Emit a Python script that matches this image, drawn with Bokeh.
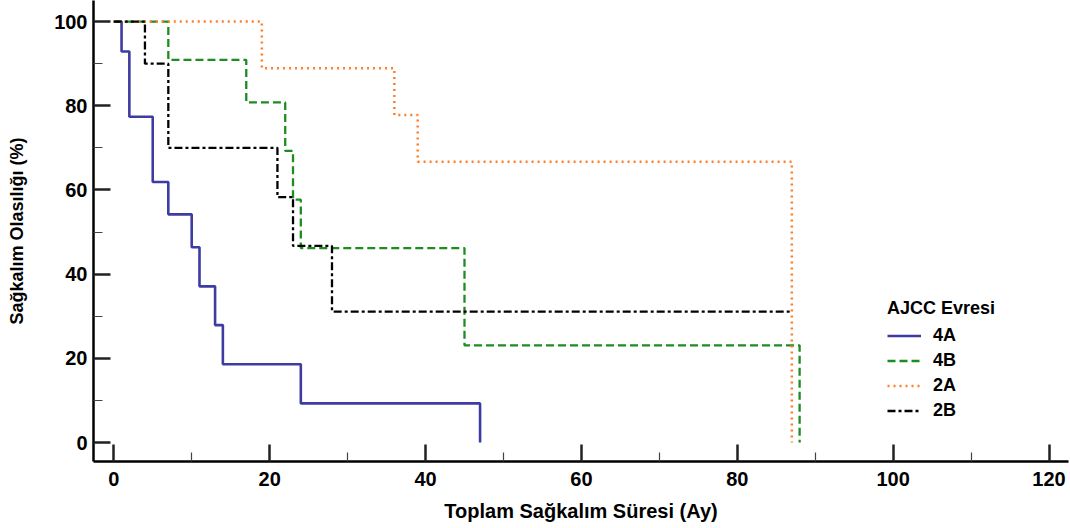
from bokeh.plotting import figure
from bokeh.models import Range1d, FixedTicker, Legend, LegendItem
from bokeh.embed import file_html
from bokeh.resources import INLINE

# Kaplan-Meier survival steps (time in months, survival %)
t_4A = [0, 1, 2, 5, 7, 10, 11, 13, 14, 24, 47]
s_4A = [100, 92.9, 77.4, 61.9, 54.2, 46.4, 37.1, 27.9, 18.6, 9.3, 0]

t_4B = [0, 7, 17, 22, 23, 24, 45, 88]
s_4B = [100, 90.9, 80.8, 69.3, 57.7, 46.2, 23.1, 0]

t_2A = [0, 19, 36, 39, 87]
s_2A = [100, 88.9, 77.8, 66.7, 0]

t_2B = [0, 4, 7, 21, 23, 28, 87]
s_2B = [100, 90, 70, 58.3, 46.7, 31.1, 31.1]

series_names = ["4A", "4B", "2A", "2B"]
x_ticks = [0, 20, 40, 60, 80, 100, 120]
y_ticks = [0, 20, 40, 60, 80, 100]

FONT = "Liberation Sans"

p = figure(width=1070, height=528, output_backend="svg", toolbar_location=None,
           x_range=Range1d(-2.6, 122.5), y_range=Range1d(-4.5, 105.0),
           min_border_left=93, min_border_right=2, min_border_top=0, min_border_bottom=67)
p.xgrid.visible = False
p.ygrid.visible = False
p.outline_line_color = None
p.background_fill_color = "white"
p.border_fill_color = "white"

r1 = p.step(t_4A, s_4A, mode="after", line_color="#3c3ca2", line_width=2.6)
r2 = p.step(t_4B, s_4B, mode="after", line_color="#1e8c1e", line_width=2.3, line_dash="8 4")
r3 = p.step(t_2A, s_2A, mode="after", line_color="#ff7f27", line_width=2.5, line_dash="2 4")
r4 = p.step(t_2B, s_2B, mode="after", line_color="black", line_width=2.3, line_dash="8 3 3 3")

for ax in (p.xaxis[0], p.yaxis[0]):
    ax.axis_line_width = 2.5
    ax.axis_line_color = "black"
    ax.major_tick_in = 17
    ax.major_tick_out = 0
    ax.minor_tick_in = 9
    ax.minor_tick_out = 0
    ax.major_tick_line_width = 2.5
    ax.minor_tick_line_width = 1.2
    ax.major_tick_line_color = "#222222"
    ax.minor_tick_line_color = "#444444"
    ax.major_label_text_font = FONT
    ax.major_label_text_font_style = "bold"
    ax.major_label_text_font_size = "20px"
    ax.major_label_text_color = "black"
    ax.axis_label_text_font = FONT
    ax.axis_label_text_font_style = "bold"
    ax.axis_label_text_color = "black"

p.xaxis[0].axis_label_text_font_size = "20px"
p.yaxis[0].axis_label_text_font_size = "18px"
p.xaxis[0].ticker = FixedTicker(ticks=x_ticks, minor_ticks=[10, 30, 50, 70, 90, 110])
p.yaxis[0].ticker = FixedTicker(ticks=y_ticks, minor_ticks=[10, 30, 50, 70, 90])
p.xaxis[0].major_label_standoff = 10
p.yaxis[0].major_label_standoff = 6
p.xaxis[0].axis_label = "Toplam Sağkalım Süresi (Ay)"
p.yaxis[0].axis_label = "Sağkalım Olasılığı (%)"
p.xaxis[0].axis_label_standoff = 11
p.yaxis[0].axis_label_standoff = 24

legend = Legend(items=[LegendItem(label=n, renderers=[r]) for n, r in zip(series_names, [r1, r2, r3, r4])],
                location=(794, 38), title="AJCC Evresi",
                title_text_font=FONT, title_text_font_style="bold", title_text_font_size="18px",
                title_text_color="black", title_standoff=4,
                label_text_font=FONT, label_text_font_style="bold", label_text_font_size="18px",
                label_text_color="black",
                glyph_width=34, glyph_height=25, label_height=25, label_standoff=12,
                spacing=0, padding=0, margin=0,
                border_line_color=None, background_fill_alpha=0)
p.add_layout(legend, "center")

open("out.html", "w").write(file_html(p, INLINE))
